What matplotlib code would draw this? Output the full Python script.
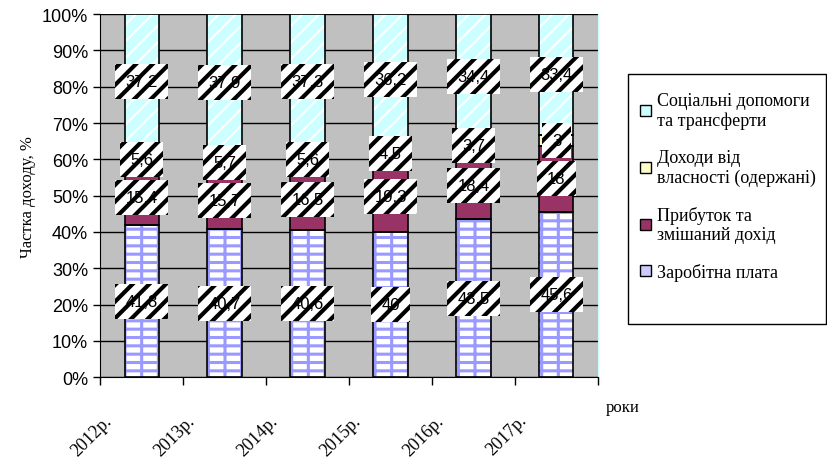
import matplotlib
matplotlib.use("Agg")
import matplotlib.pyplot as plt
from matplotlib.patches import Rectangle
import numpy as np

# дані (частка доходу, %)
years = ["2012р.", "2013р.", "2014р.", "2015р.", "2016р.", "2017р."]
wages = [41.8, 40.7, 40.6, 40.0, 43.5, 45.6]
profit = [15.4, 15.7, 16.5, 19.3, 18.4, 18.0]
property_inc = [5.6, 5.7, 5.6, 4.5, 3.7, 3.0]
social = [37.2, 37.9, 37.3, 36.2, 34.4, 33.4]

series_names = ["Заробітна плата", "Прибуток та\nзмішаний дохід",
                "Доходи від\nвласності (одержані)", "Соціальні допомоги\nта трансферти"]

plt.rcParams['hatch.linewidth'] = 2.0
serif = ['Liberation Serif', 'DejaVu Serif']
sans = ['Liberation Sans', 'DejaVu Sans']

fig = plt.figure(figsize=(8.28, 4.6), dpi=100)
ax = fig.add_axes([0.1208, 0.178, 0.6014, 0.789])
ax.set_facecolor('#C0C0C0')

x = np.arange(len(years))
width = 0.41
styles = [
    dict(face='white', hcol='#9999FF', hatch='+-', hlw=2.2),
    dict(face='#993366', hcol='#993366', hatch=None, hlw=1.0),
    dict(face='#FFFFCC', hcol='#FFFFCC', hatch=None, hlw=1.0),
    dict(face='#CCFFFF', hcol='white', hatch='//', hlw=1.5),
]
data = [wages, profit, property_inc, social]

bottom = np.zeros(len(years))
handles = []
for vals, st, name in zip(data, styles, series_names):
    vals = np.array(vals)
    bars = ax.bar(x, vals, width, bottom=bottom, color=st['face'], edgecolor=st['hcol'],
                  hatch=st['hatch'], linewidth=0, zorder=2)
    for p in bars:
        if hasattr(p, 'set_hatch_linewidth'):
            p.set_hatch_linewidth(st['hlw'])
    ax.bar(x, vals, width, bottom=bottom, fill=False, edgecolor='black',
           linewidth=1.2, zorder=3)
    h = Rectangle((0, 0), 1, 1, facecolor=st['face'] if st['hatch'] != '+-' else '#CCCCFF',
                  edgecolor='black', linewidth=1)
    handles.append(h)
    for xi, b, v in zip(x, bottom, vals):
        txt = f"{v:g}".replace('.', ',')
        t = ax.text(xi, b + v / 2, txt, ha='center', va='center', fontsize=12,
                    family=sans, color='black', zorder=5,
                    bbox=dict(boxstyle='square,pad=0.6', facecolor='white',
                              edgecolor='black', hatch='//', linewidth=0))
        bp = t.get_bbox_patch()
        if hasattr(bp, 'set_hatch_linewidth'):
            bp.set_hatch_linewidth(3.0)
    bottom += vals

ax.set_ylim(0, 100)
ax.set_xlim(-0.5, len(years) - 0.5)
ax.set_yticks(np.arange(0, 101, 10))
ax.set_yticklabels([f"{v}%" for v in range(0, 101, 10)], family=sans, fontsize=13)
ax.yaxis.grid(True, color='black', linewidth=1, zorder=1)
ax.set_axisbelow(True)

ax.set_xticks(np.arange(-0.5, len(years), 1))
ax.set_xticklabels([])
ax.tick_params(axis='x', length=6, direction='out', width=1)
ax.tick_params(axis='y', length=5, direction='out', width=1)
for xi, yr in zip(x, years):
    ax.text(xi - 0.46, -0.095, yr, transform=ax.get_xaxis_transform(), rotation=45,
            ha='right', va='top', fontsize=13, family=serif, rotation_mode='anchor')

ax.spines['top'].set_visible(False)
ax.spines['right'].set_color('#CCFFFF')
ax.spines['left'].set_color('black')
ax.spines['bottom'].set_color('black')

ax.set_ylabel("Частка доходу, %", family=serif, fontsize=12)
fig.text(0.731, 0.113, "роки", family=serif, fontsize=12, ha='left', va='center')

# рамка легенди
fig.patches.append(Rectangle((0.7585, 0.2935), 0.2395, 0.5435, transform=fig.transFigure,
                             facecolor='white', edgecolor='black', linewidth=1))
leg = fig.legend(handles[::-1], series_names[::-1], loc='upper left',
                 bbox_to_anchor=(0.756, 0.83), prop={'family': serif, 'size': 13},
                 frameon=False, handlelength=0.6, handleheight=0.6, handletextpad=0.3,
                 labelspacing=1.1, borderpad=0.3)

fig.savefig("out.png", dpi=100)
